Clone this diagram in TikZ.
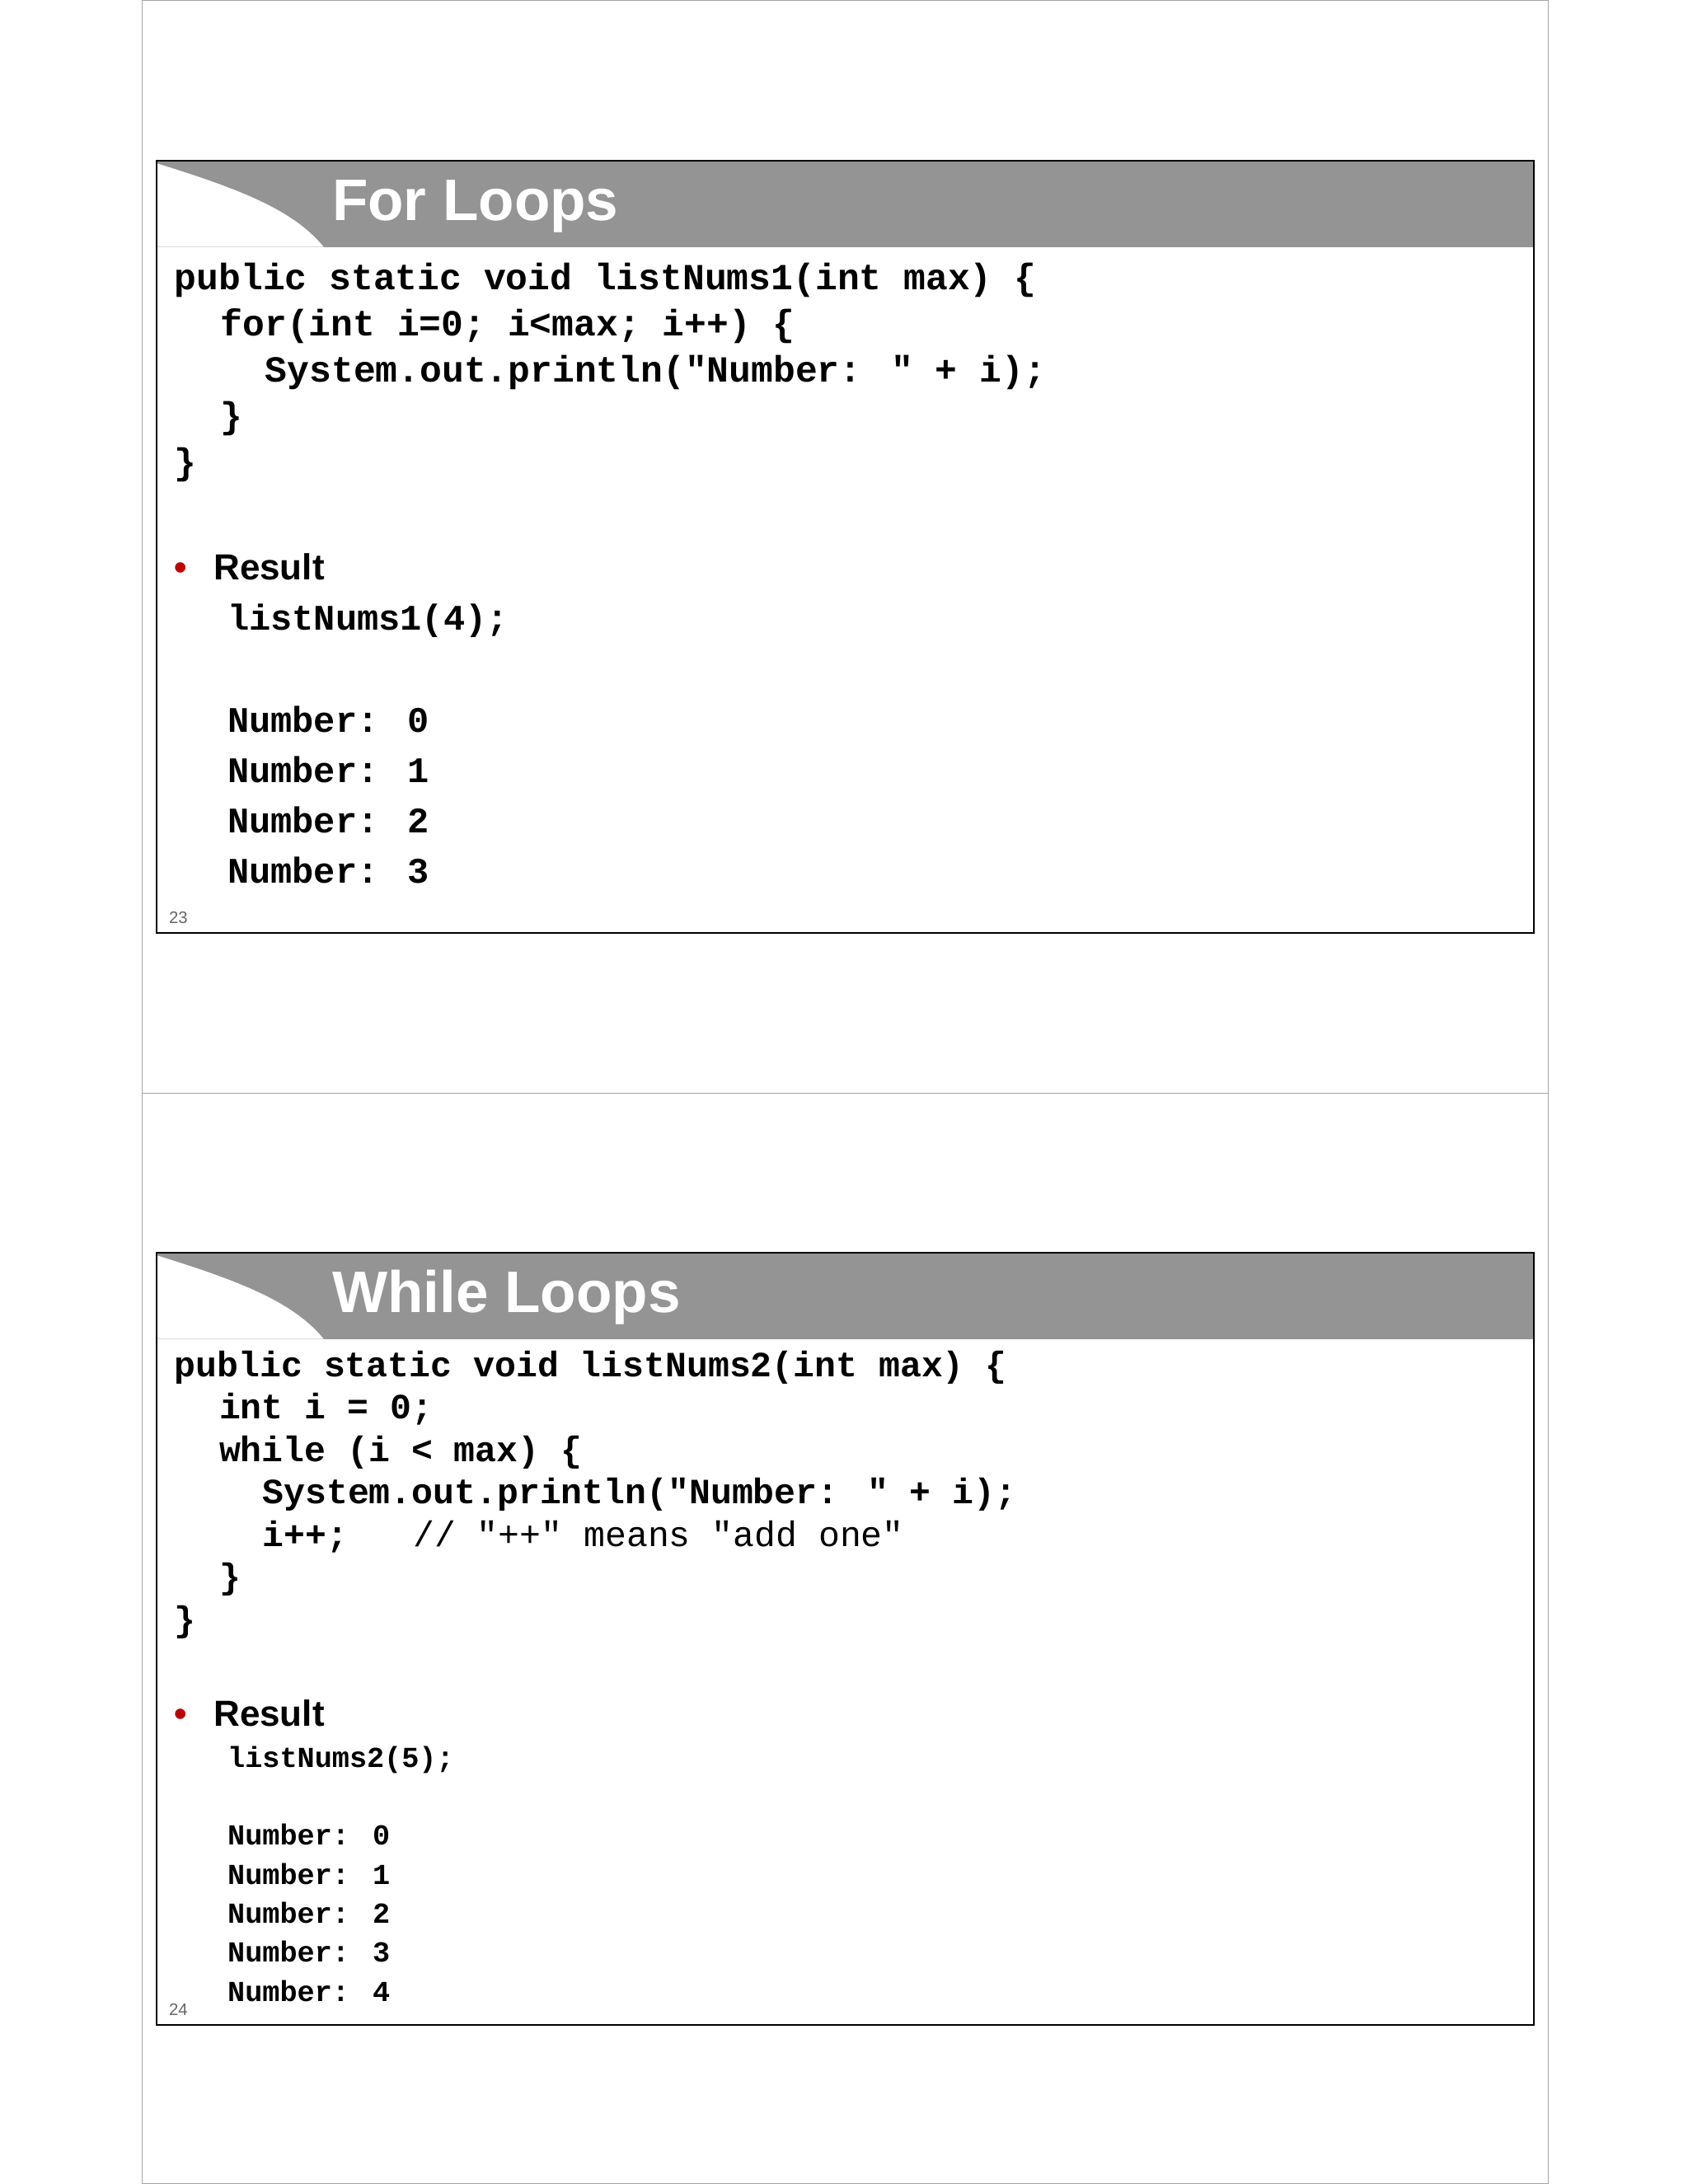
\documentclass[tikz,border=0pt]{standalone}
\usepackage{fontspec}
\setmainfont{Liberation Sans}
\newfontfamily\cmono{Liberation Mono}
\begin{document}
\begin{tikzpicture}[x=1pt,y=-1pt,
  code/.style={anchor=base west,inner sep=0pt,font=\cmono\bfseries\fontsize{26.4}{30}\selectfont},
  codeb/.style={anchor=base west,inner sep=0pt,font=\cmono\bfseries\fontsize{25.8}{30}\selectfont},
  codes/.style={anchor=base west,inner sep=0pt,font=\cmono\bfseries\fontsize{25.5}{30}\selectfont},
  res/.style={anchor=base west,inner sep=0pt,font=\cmono\bfseries\fontsize{20.8}{25}\selectfont},
  ttl/.style={anchor=base west,inner sep=0pt,text=white,font=\bfseries\fontsize{42}{46}\selectfont},
  bul/.style={anchor=base west,inner sep=0pt,font=\bfseries\fontsize{26}{30}\selectfont},
  pnum/.style={anchor=base west,inner sep=0pt,text=black!60,font=\fontsize{12}{14}\selectfont}]
\useasboundingbox (0,0) rectangle (1210,1566);
\fill[white] (0,0) rectangle (1210,1566);
\draw[black!35,line width=0.8] (102,0) rectangle (1110,1566);
\draw[black!35,line width=0.8] (102,784) -- (1110,784);
\foreach \oy/\t in {0/For Loops,783/While Loops}{
  \begin{scope}[yshift=-\oy]
  \fill[black!42] (112,115) rectangle (1100,177);
  \fill[white] (112,117) .. controls (170,135) and (210,150) .. (232,177) -- (112,177) -- cycle;
  \draw[line width=1.2] (112,115) rectangle (1100,669);
  \node[ttl] (t\oy) at (238,158) {\t};
  \end{scope}
}
% slide 1
\node[code] (a1) at (125,208) {public static void listNums1(int max) \{};
\node[code] (a2) at (158,241) {for(int i=0; i<max; i++) \{};
\node[code] (a3) at (190,274) {System.out.println("Number: " + i);};
\node[code] (a4) at (158,307) {\}};
\node[code] (a5) at (125,340) {\}};
\node[bul,text=red!75!black] (b1) at (125,416) {•};
\node[bul] (r1) at (153,416) {Result};
\node[codeb] (c1) at (163,452) {listNums1(4);};
\foreach \k/\yy in {0/525,1/561,2/597,3/633}
  \node[codeb] (n1\k) at (163,\yy) {Number: \k};
\node[pnum] (p1) at (121,662) {23};
% slide 2
\node[codes] (d1) at (125,987) {public static void listNums2(int max) \{};
\node[codes] (d2) at (157,1017) {int i = 0;};
\node[codes] (d3) at (157,1048) {while (i < max) \{};
\node[codes] (d4) at (188,1078) {System.out.println("Number: " + i);};
\node[codes] (d5) at (188,1109) {i++;};
\node[anchor=base west,inner sep=0pt,font=\cmono\fontsize{25.5}{30}\selectfont] (cm) at (296,1109) {// "++" means "add one"};
\node[codes] (d6) at (157,1139) {\}};
\node[codes] (d7) at (125,1170) {\}};
\node[bul,text=red!75!black] (b2) at (125,1238) {•};
\node[bul] (r2) at (153,1238) {Result};
\node[res] (c2) at (163,1267) {listNums2(5);};
\foreach \k/\yy in {0/1323,1/1351,2/1379,3/1407,4/1435}
  \node[res] (n2\k) at (163,\yy) {Number: \k};
\node[pnum] (p2) at (121,1445) {24};
\end{tikzpicture}
\end{document}
